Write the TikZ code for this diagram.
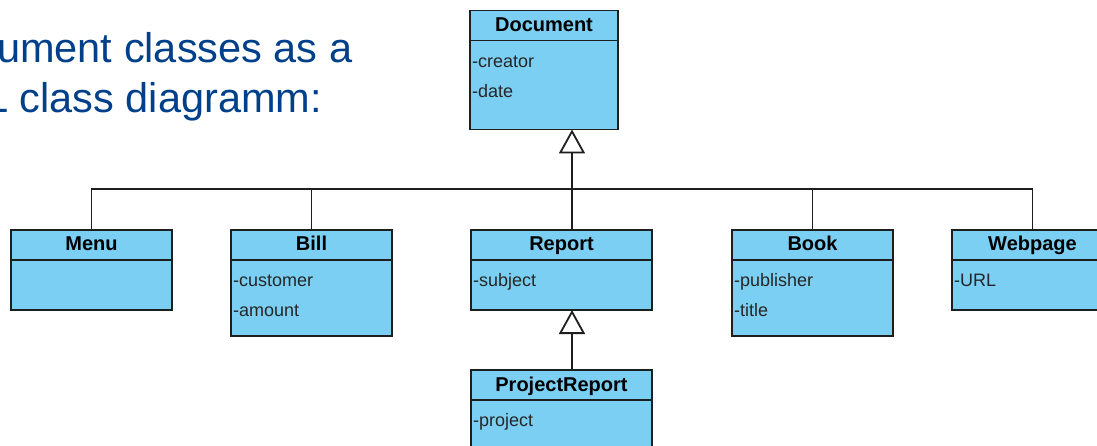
\documentclass[tikz,border=0pt]{standalone}
\usepackage{fontspec}
\setmainfont{Liberation Sans}
\usetikzlibrary{positioning, arrows.meta}
\definecolor{umlfill}{RGB}{122,207,243}
\definecolor{umlline}{RGB}{30,30,30}
\definecolor{slideblue}{RGB}{0,64,139}

\begin{document}
\begin{tikzpicture}[
    x=1pt, y=-1pt,
    head/.style={draw=umlline, fill=umlfill, line width=1.8pt, inner sep=0pt, outer sep=0pt,
                 minimum width=161pt, minimum height=30pt, text height=15pt, text depth=3pt,
                 font=\bfseries\fontsize{20}{24}\selectfont},
    body/.style={draw=umlline, fill=umlfill, line width=1.8pt, inner sep=0pt, outer sep=0pt,
                 minimum width=161pt, minimum height=50pt},
    attr/.style={anchor=north west, inner sep=0pt, align=left, text=black!85,
                 font=\fontsize{18}{30}\selectfont},
    link/.style={line width=1.9pt, umlline},
    gen/.style={link, -{Triangle[open, length=24pt, width=26pt, line width=1.8pt]}},
    intro/.style={anchor=base west, inner sep=0pt, text=slideblue,
                  font=\fontsize{41.5}{50}\selectfont}
]
    \path[use as bounding box, fill=white] (0,0) rectangle (1097,446);

    % slide text
    \node[intro] (intro1) at (-3,63) {ument classes as a};
    \node[intro] (intro2) at (-15,113) {L class diagramm:};

    % classes
    \node[head, minimum width=148pt] (doc) at (544,25.5) {Document};
    \node[body, minimum width=148pt, minimum height=89pt, below=0pt of doc] (docb) {};
    \node[attr] (doca) at ([shift={(2,5.5)}]docb.north west) {\strut-creator\\\strut-date};

    \node[head, minimum width=181pt] (report) at (561.5,245) {Report};
    \node[body, minimum width=181pt, below=0pt of report] (reportb) {};
    \node[attr] (reporta) at ([shift={(2,5.5)}]reportb.north west) {\strut-subject};

    \node[head, left=79pt of report] (bill) {Bill};
    \node[body, minimum height=76pt, below=0pt of bill] (billb) {};
    \node[attr] (billa) at ([shift={(2,5.5)}]billb.north west) {\strut-customer\\\strut-amount};

    \node[head, left=59pt of bill] (menu) {Menu};
    \node[body, below=0pt of menu] (menub) {};

    \node[head, right=80pt of report] (book) {Book};
    \node[body, minimum height=76pt, below=0pt of book] (bookb) {};
    \node[attr] (booka) at ([shift={(2,5.5)}]bookb.north west) {\strut-publisher\\\strut-title};

    \node[head, right=59pt of book] (web) {Webpage};
    \node[body, below=0pt of web] (webb) {};
    \node[attr] (weba) at ([shift={(2,5.5)}]webb.north west) {\strut-URL};

    \node[head, minimum width=181pt, below=60pt of reportb] (prj) {ProjectReport};
    \node[body, minimum width=181pt, below=0pt of prj] (prjb) {};
    \node[attr] (prja) at ([shift={(2,5.5)}]prjb.north west) {\strut-project};

    % generalisation
    \coordinate (bus) at (572,189);
    \draw[link] (menu.north) |- (bus) -| (web.north);
    \draw[link] (bill.north) -- (bill.north |- bus);
    \draw[link] (book.north) -- (book.north |- bus);
    \draw[gen] (report.north -| bus) -- (docb.south -| bus);
    \draw[gen] (prj.north -| bus) -- (reportb.south -| bus);
\end{tikzpicture}
\end{document}
